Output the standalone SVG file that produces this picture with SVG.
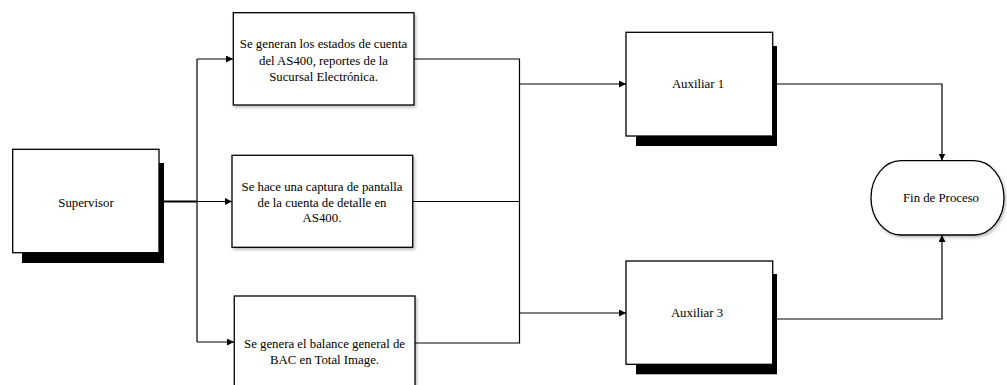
<svg xmlns="http://www.w3.org/2000/svg" width="1007" height="385" viewBox="0 0 1007 385">
  <style>
    .box { fill: #ffffff; stroke: #000000; stroke-width: 1.3; }
    .soft { filter: url(#soft); }
    .shadow { fill: #000000; }
    .lbl { font-family: 'Liberation Serif', 'Times New Roman', Times, serif; font-size: 12.8px; fill: #000000; text-anchor: middle; }
    .wire { fill: none; stroke: #000000; stroke-width: 1.2; }
    .heavy { fill: none; stroke: #000000; stroke-width: 2.2; }
  </style>
  <defs>
    <marker id="tip" viewBox="0 0 10 10" refX="10" refY="5" markerWidth="7" markerHeight="7" markerUnits="userSpaceOnUse" orient="auto">
      <path d="M0,0 L10,5 L0,10 Z" fill="#000000"/>
    </marker>
    <filter id="soft" x="-10%" y="-10%" width="130%" height="130%">
      <feDropShadow dx="1.5" dy="2" stdDeviation="1.5" flood-color="#000000" flood-opacity="0.25"/>
    </filter>
  </defs>

  <rect width="1007" height="385" fill="#ffffff"/>

  <!-- connectors -->
  <g id="connectors">
    <!-- supervisor fan-out -->
    <path class="heavy" d="M159,201.5 H197"/>
    <path class="wire" d="M197,59 V342"/>
    <path class="wire" d="M197,59 H233" marker-end="url(#tip)"/>
    <path class="wire" d="M197,201.5 H232" marker-end="url(#tip)"/>
    <path class="wire" d="M197,342 H234" marker-end="url(#tip)"/>
    <!-- merge into auxiliaries -->
    <path class="wire" d="M414,59 H519.5 V343 H415"/>
    <path class="wire" d="M413,201.5 H519.5"/>
    <path class="wire" d="M519.5,84 H626" marker-end="url(#tip)"/>
    <path class="wire" d="M519.5,313 H626" marker-end="url(#tip)"/>
    <!-- auxiliaries to end -->
    <path class="wire" d="M777,84 H942 V160.5" marker-end="url(#tip)"/>
    <path class="wire" d="M777,319 H942 V235" marker-end="url(#tip)"/>
  </g>

  <g id="supervisor">
    <rect class="shadow" x="22" y="163" width="142" height="100"/>
    <rect class="box" x="12.7" y="149.3" width="146.3" height="103.4"/>
    <text class="lbl" x="86" y="207">Supervisor</text>
  </g>

  <g id="estados-cuenta">
    <rect class="box soft" x="233.3" y="12.7" width="180.7" height="92.3"/>
    <text class="lbl" x="323.5" y="47.5">Se generan los estados de cuenta</text>
    <text class="lbl" x="323.5" y="64.5">del AS400, reportes de la</text>
    <text class="lbl" x="323.5" y="81">Sucursal Electrónica.</text>
  </g>

  <g id="captura-pantalla">
    <rect class="box soft" x="232" y="155.3" width="180.7" height="92"/>
    <text class="lbl" x="322" y="190.5">Se hace una captura de pantalla</text>
    <text class="lbl" x="322" y="206.5">de la cuenta de detalle en</text>
    <text class="lbl" x="322" y="222">AS400.</text>
  </g>

  <g id="balance-general">
    <rect class="box soft" x="234.3" y="296" width="180.7" height="100"/>
    <text class="lbl" x="324.5" y="347.5">Se genera el balance general de</text>
    <text class="lbl" x="324.5" y="364">BAC en Total Image.</text>
  </g>

  <g id="auxiliar-1">
    <rect class="shadow" x="636" y="46" width="141" height="100"/>
    <rect class="box" x="626" y="32.3" width="146.7" height="103.7"/>
    <text class="lbl" x="698" y="87.5">Auxiliar 1</text>
  </g>

  <g id="auxiliar-3">
    <rect class="shadow" x="636" y="274" width="141" height="100.3"/>
    <rect class="box" x="626" y="261" width="146.7" height="103.3"/>
    <text class="lbl" x="697" y="317">Auxiliar 3</text>
  </g>

  <g id="fin-proceso">
    <rect class="box soft" x="871" y="160.7" width="133" height="74.3" rx="30" ry="37"/>
    <text class="lbl" x="941" y="202">Fin de Proceso</text>
  </g>
</svg>
